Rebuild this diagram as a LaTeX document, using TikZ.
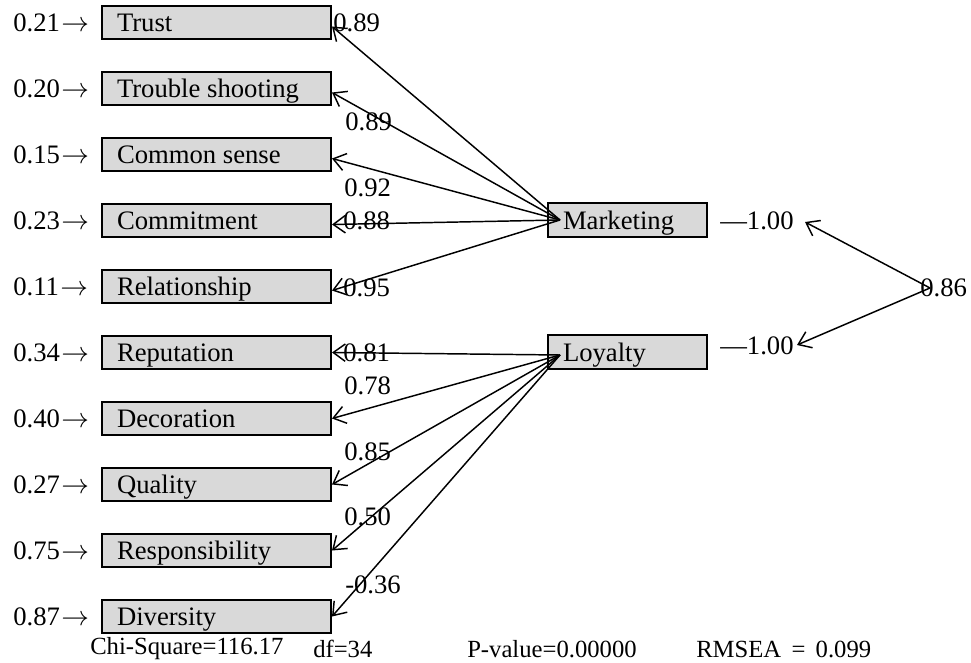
\documentclass[tikz,border=0pt]{standalone}
\usepackage{fontspec}
\setmainfont{Liberation Serif}
\usetikzlibrary{arrows.meta}
\definecolor{boxgray}{RGB}{217,217,217}
\tikzset{
  vbox/.style={draw, fill=boxgray, line width=1.5pt, minimum height=24.75pt,
    minimum width=171.75pt, inner xsep=11.25pt, inner ysep=0pt, anchor=center,
    text height=17.5pt, text depth=4pt,
    font=\fontsize{20}{24}\selectfont},
  lvbox/.style={vbox, minimum width=119.25pt, minimum height=25.5pt},
  txt/.style={inner sep=0pt, anchor=west, font=\fontsize{20}{24}\selectfont},
  stat/.style={inner sep=0pt, anchor=west, font=\fontsize{18.5}{22}\selectfont},
  arr/.style={line width=1.1pt, -{Straight Barb[length=9pt, width=13pt, line width=1.1pt]}}
}
\newcommand{\rarr}{\kern1pt$\rightarrow$}
\newcommand{\bx}[1]{\makebox[149.25pt][l]{#1}}
\newcommand{\lbx}[1]{\makebox[96.75pt][l]{#1}}
\begin{document}
\begin{tikzpicture}[x=0.75pt,y=-0.75pt]
\useasboundingbox (0,0) rectangle (971,663);
% observed variables
\node[vbox] (b0) at (216.5,22.5) {\bx{Trust}};
\node[vbox] (b1) at (216.5,88.5) {\bx{Trouble shooting}};
\node[vbox] (b2) at (216.5,154.5) {\bx{Common sense}};
\node[vbox] (b3) at (216.5,220.5) {\bx{Commitment}};
\node[vbox] (b4) at (216.5,286.5) {\bx{Relationship}};
\node[vbox] (b5) at (216.5,352.5) {\bx{Reputation}};
\node[vbox] (b6) at (216.5,418.5) {\bx{Decoration}};
\node[vbox] (b7) at (216.5,484.5) {\bx{Quality}};
\node[vbox] (b8) at (216.5,550.5) {\bx{Responsibility}};
\node[vbox] (b9) at (216.5,616.5) {\bx{Diversity}};
% residuals
\node[txt] (r0) at (13,22.5) {0.21\rarr};
\node[txt] (r1) at (13,88.5) {0.20\rarr};
\node[txt] (r2) at (13,154.5) {0.15\rarr};
\node[txt] (r3) at (13,220.5) {0.23\rarr};
\node[txt] (r4) at (13,286.5) {0.11\rarr};
\node[txt] (r5) at (13,352.5) {0.34\rarr};
\node[txt] (r6) at (13,418.5) {0.40\rarr};
\node[txt] (r7) at (13,484.5) {0.27\rarr};
\node[txt] (r8) at (13,550.5) {0.75\rarr};
\node[txt] (r9) at (13,616.5) {0.87\rarr};
% latent variables
\node[lvbox] (mkt) at (627.5,220) {\lbx{Marketing}};
\node[lvbox] (loy) at (627.5,352) {\lbx{Loyalty}};
\coordinate (mk) at (560,220);
\coordinate (ly) at (560,355);
% loadings
\foreach \i in {0,1,2,3,4} { \draw[arr] (mk) -- ([yshift=-3pt]b\i.east); }
\foreach \i in {5,6,7,8,9} { \draw[arr] (ly) -- (b\i.east); }
\node[txt] (l0) at (333,23) {0.89};
\node[txt] (l1) at (345,122) {0.89};
\node[txt] (l2) at (344,188) {0.92};
\node[txt] (l3) at (343,221) {0.88};
\node[txt] (l4) at (343,288) {0.95};
\node[txt] (l5) at (343,353) {0.81};
\node[txt] (l6) at (344,386) {0.78};
\node[txt] (l7) at (344,452) {0.85};
\node[txt] (l8) at (344,517) {0.50};
\node[txt] (l9) at (345,585) {-0.36};
% variances and covariance
\node[txt] (v1) at (720,221) {—1.00};
\node[txt] (v2) at (720,346) {—1.00};
\node[txt] (cov) at (920,288) {0.86};
\coordinate (cv) at (930,288);
\coordinate (m1) at (805,222);
\coordinate (n1) at (797,345);
\draw[arr] (cv) -- (m1);
\draw[arr] (cv) -- (n1);
% statistics
\node[stat] (s1) at (90,649) {Chi-Square=116.17};
\node[stat] (s2) at (313,649) {df=34};
\node[stat] (s3) at (467,649) {P-value=0.00000};
\node[stat] (s4) at (696,649) {RMSEA\, =\, 0.099};
\end{tikzpicture}
\end{document}
